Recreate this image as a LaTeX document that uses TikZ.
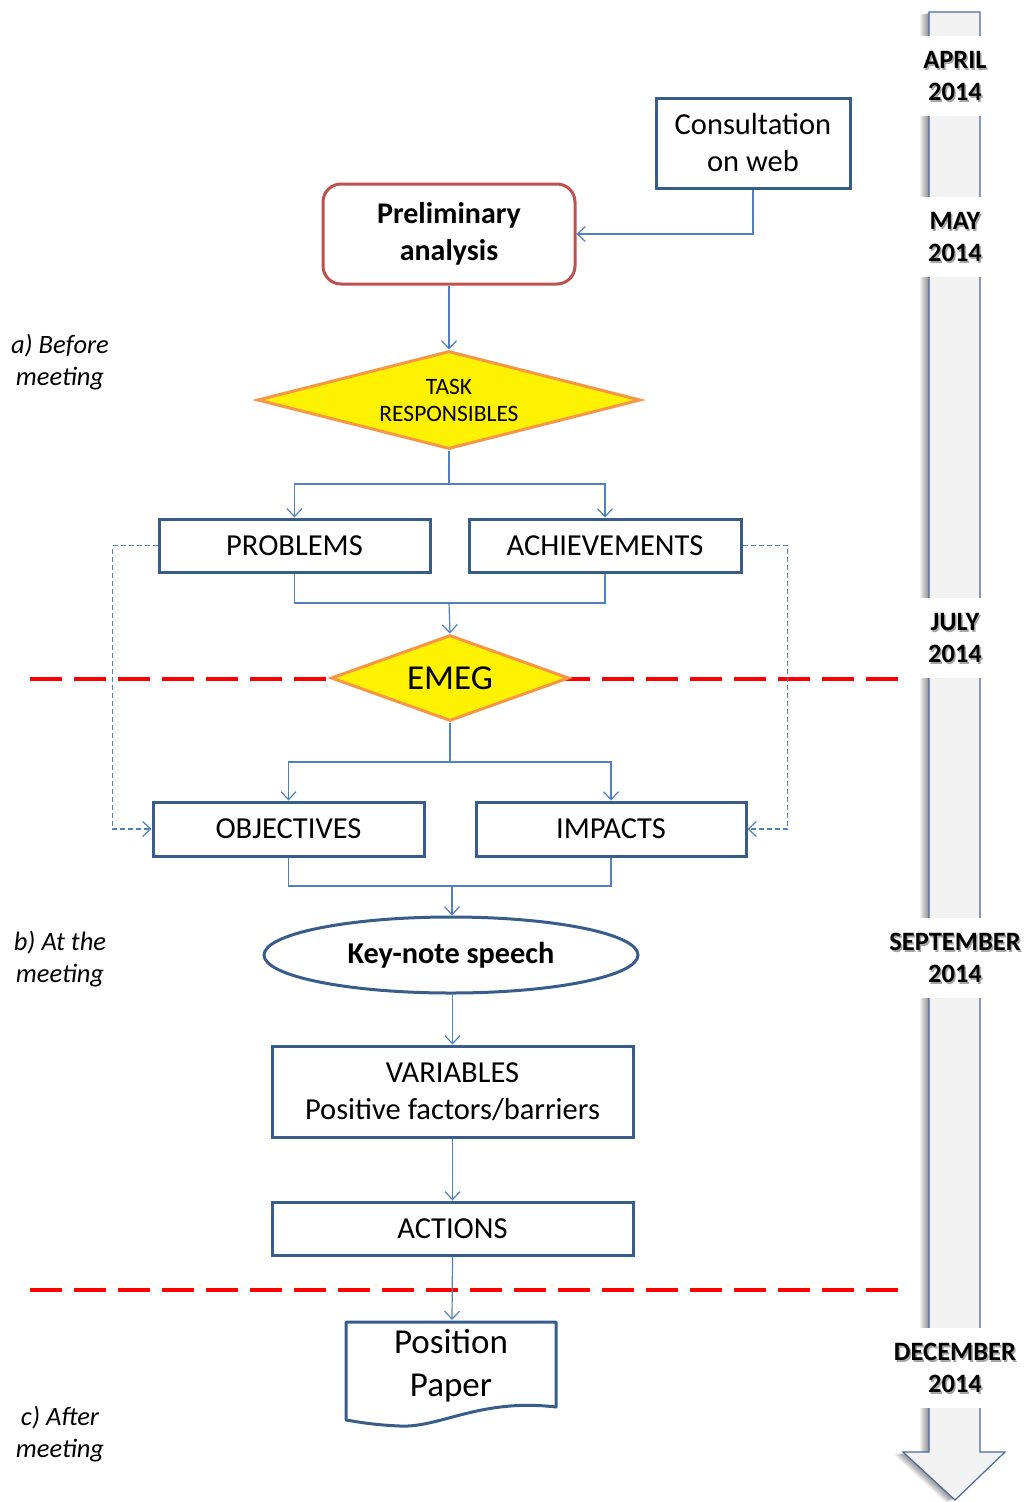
\documentclass[tikz,border=0pt]{standalone}
\usepackage{fontspec}
\setmainfont{Carlito}
\usetikzlibrary{arrows.meta,shapes.geometric}
\definecolor{boxblue}{HTML}{385D8A}
\definecolor{linkblue}{HTML}{4F81BD}
\definecolor{redbox}{HTML}{C0504D}
\definecolor{orangeb}{HTML}{F79646}
\definecolor{timegray}{HTML}{F2F2F2}
\definecolor{timeblue}{HTML}{4A6A9C}
\begin{document}
\begin{tikzpicture}[x=1pt,y=-1pt,
  boxtext/.style={font=\fontsize{30.5}{37}\selectfont, align=center},
  blockbox/.style={boxtext, draw=boxblue, line width=3pt, fill=white, rectangle, inner sep=0pt},
  decisionbox/.style={diamond, draw=orangeb, fill=yellow, line width=3pt, inner sep=0pt, align=center},
  conn/.style={draw=linkblue, line width=1.2pt},
  arr/.style={conn, -{Straight Barb[length=8pt,width=15pt,line width=1.2pt]}},
  dasharr/.style={arr, dash pattern=on 5pt off 3pt},
  redline/.style={draw=red, line width=3.6pt, dash pattern=on 32pt off 12pt},
  monthpatch/.style={fill=white, minimum width=124pt, minimum height=80pt, inner sep=0pt},
  monthtext/.style={font=\bfseries\fontsize{26.5}{32}\selectfont, align=center, inner sep=0pt},
  phase/.style={font=\itshape\fontsize{26.5}{32}\selectfont, align=center, inner sep=0pt}
]
\useasboundingbox (0,0) rectangle (1026,1502);

% timeline arrow with soft shadow
\foreach \i in {1,...,9} {
  \fill[black, opacity=0.055] ([xshift=-\i pt, yshift=-0.3*\i pt]929,12) -- ++(51,0) -- ++(0,1440) -- ++(25,0) -- ++(-50,48) -- ++(-52,-48) -- ++(26,0) -- cycle;
}
\filldraw[fill=timegray, draw=timeblue, line width=1.2pt]
  (929,12) -- (980,12) -- (980,1452) -- (1005,1452) -- (955,1500) -- (903,1452) -- (929,1452) -- cycle;

% month labels
\foreach \n/\y/\t in {m1/76/{APRIL\\2014}, m2/237/{MAY\\2014}, m3/638/{JULY\\2014}, m4/958/{SEPTEMBER\\2014}, m5/1368/{DECEMBER\\2014}} {
  \node[monthpatch] (\n p) at (955,\y) {};
  \node[monthtext, text=black!35] (\n s) at (956.5,\y+1.5) {\t};
  \node[monthtext] (\n) at (955,\y) {\t};
}

% red dashed separators
\coordinate (r1a) at (30,679);
\coordinate (r1b) at (898,679);
\coordinate (r2a) at (30,1290);
\coordinate (r2b) at (898,1290);
\draw[redline] (r1a) -- (r1b);
\draw[redline] (r2a) -- (r2b);

% phase labels
\node[phase] (pa) at (60,362) {a) Before\\meeting};
\node[phase] (pb) at (60,959) {b) At the\\meeting};
\node[phase] (pc) at (60,1434) {c) After\\meeting};

% nodes
\node[blockbox, minimum width=194pt, minimum height=90pt] (consult) at (753,143) {Consultation\\on web};
\node[blockbox, draw=redbox, rounded corners=18pt, font=\bfseries\fontsize{30}{37}\selectfont, minimum width=252pt, minimum height=100pt] (prelim) at (449,234) {Preliminary\\analysis};
\node[decisionbox, shape aspect=3.9, font=\fontsize{23.5}{27}\selectfont, minimum width=383pt, minimum height=98pt] (task) at (449,400) {TASK\\RESPONSIBLES};
\node[blockbox, minimum width=271pt, minimum height=53pt] (problems) at (294.5,545.5) {PROBLEMS};
\node[blockbox, minimum width=272pt, minimum height=53pt] (achieve) at (605,545.5) {ACHIEVEMENTS};
\node[decisionbox, shape aspect=2.77, font=\fontsize{35}{40}\selectfont, minimum width=238pt, minimum height=86pt] (emeg) at (450,678) {EMEG};
\node[blockbox, minimum width=271pt, minimum height=54pt] (objectives) at (288.5,829) {OBJECTIVES};
\node[blockbox, minimum width=270pt, minimum height=54pt] (impacts) at (611,829) {IMPACTS};
\node[ellipse, draw=boxblue, line width=3pt, fill=white, inner sep=0pt, font=\bfseries\fontsize{30.3}{37}\selectfont, minimum width=374pt, minimum height=76pt] (keynote) at (451,955) {Key-note speech};
\node[blockbox, minimum width=361pt, minimum height=91pt] (variables) at (452.5,1091.5) {VARIABLES\\Positive factors/barriers};
\node[blockbox, minimum width=361pt, minimum height=53pt] (actions) at (452.5,1228.5) {ACTIONS};

% document shape
\coordinate (docTL) at (346,1322);
\coordinate (docTR) at (556,1322);
\coordinate (docBR) at (556,1407);
\coordinate (docBL) at (346,1420);
\filldraw[fill=white, draw=boxblue, line width=3pt, line join=round]
  (docBL) -- (docTL) -- (docTR) -- (docBR)
  .. controls (480,1398) and (440,1428) .. (400,1426)
  .. controls (375,1425) and (358,1422) .. (docBL) -- cycle;
\node[font=\fontsize{35}{43}\selectfont, align=center, inner sep=0pt] (paper) at (451,1366) {Position\\Paper};
\coordinate (paperTop) at (452,1320);

% connectors
\draw[arr] (consult.south) |- (prelim.east);
\draw[arr] (prelim.south) -- (task.north);
\coordinate (s1) at (449,484);
\draw[conn] (task.south) -- (s1);
\draw[arr] (s1) -| (problems.north);
\draw[arr] (s1) -| (achieve.north);
\coordinate (m1c) at (449,603);
\draw[conn] (problems.south) |- (m1c) -| (achieve.south);
\draw[arr] (m1c) -- (emeg.north);
\coordinate (s2) at (450,762);
\draw[conn] (emeg.south) -- (s2);
\draw[arr] (s2) -| (objectives.north);
\draw[arr] (s2) -| (impacts.north);
\coordinate (m2c) at (452,886);
\draw[conn] (objectives.south) |- (m2c) -| (impacts.south);
\draw[arr] (m2c) -- (m2c |- keynote.north);
\draw[arr] (keynote.south -| variables.north) -- (variables.north);
\draw[arr] (variables.south) -- (actions.north);
\draw[arr] (actions.south) -- (paperTop);
\draw[dasharr] (problems.west) -- ++(-45,0) |- (objectives.west);
\draw[dasharr] (achieve.east) -- ++(45,0) |- (impacts.east);
\end{tikzpicture}
\end{document}
